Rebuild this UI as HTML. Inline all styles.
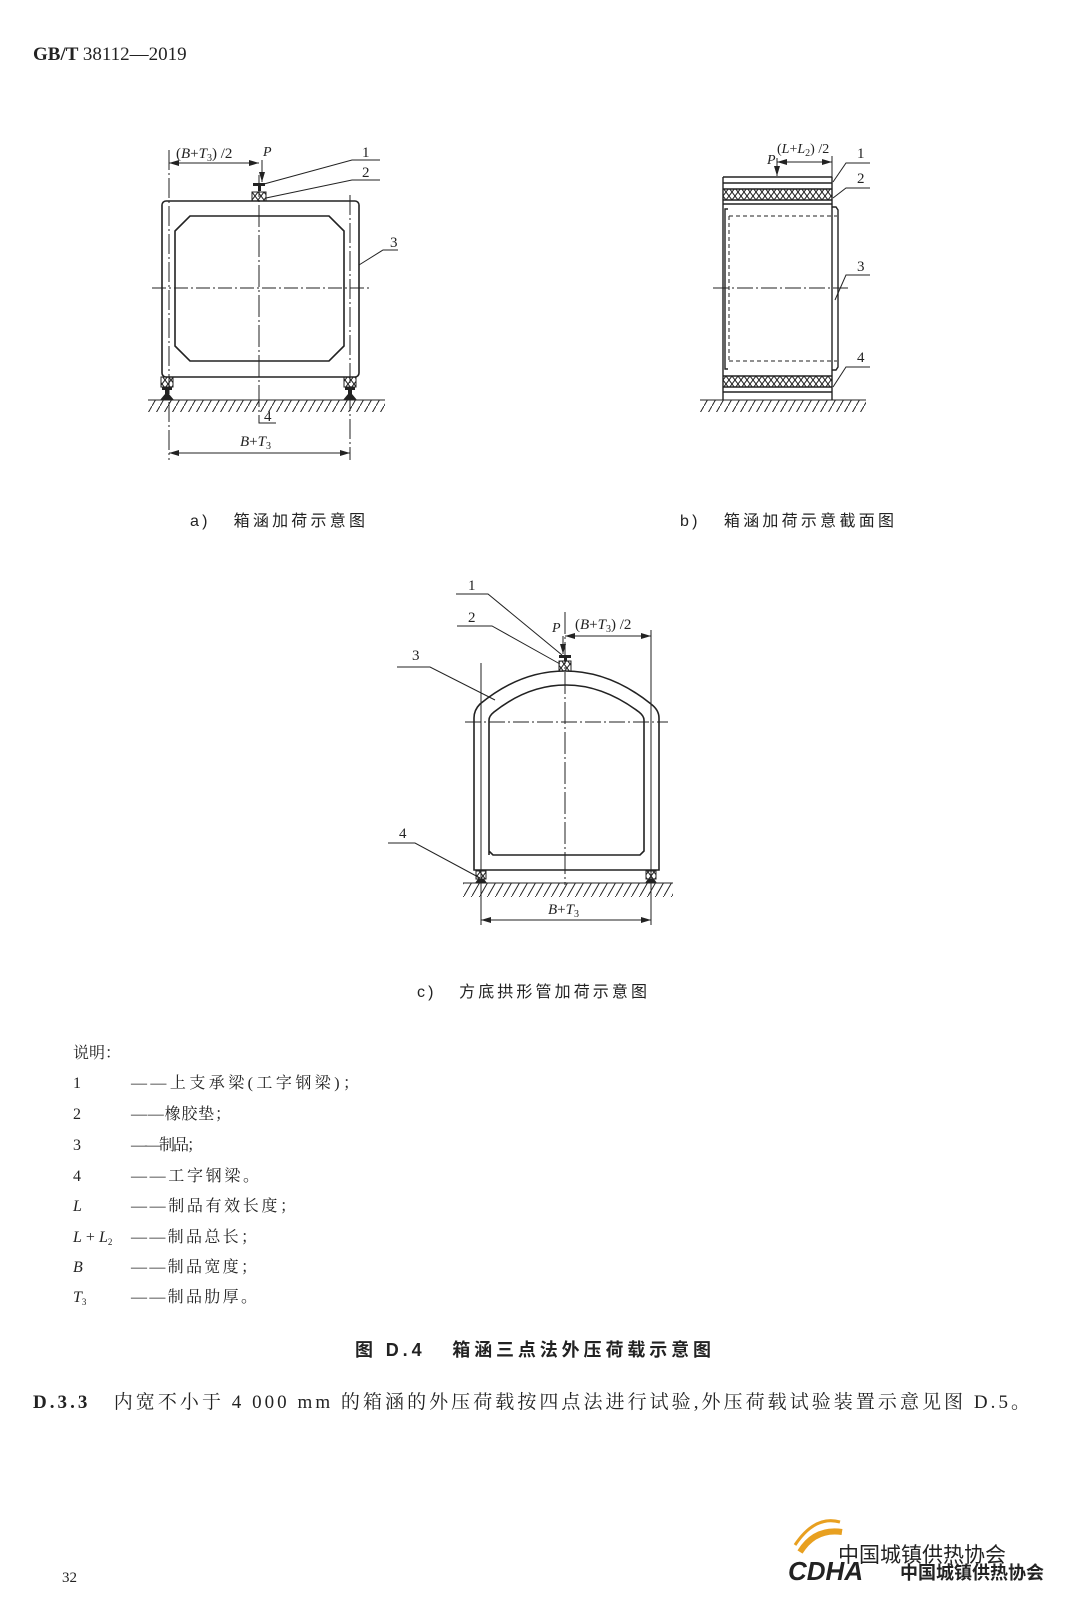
<!DOCTYPE html>
<html><head><meta charset="utf-8">
<style>
html,body{margin:0;padding:0;background:#fff;}
svg{display:block;}
text{font-family:"Liberation Serif","Noto Serif CJK SC",serif;fill:#222;}
.it{font-style:italic;}
.cj{font-family:"Liberation Sans","Noto Sans CJK SC",sans-serif;}
</style></head><body>
<svg width="1080" height="1612" viewBox="0 0 1080 1612" xmlns="http://www.w3.org/2000/svg">
<defs>
<pattern id="hatch" width="8" height="14" patternUnits="userSpaceOnUse">
<line x1="8" y1="0" x2="0" y2="14" stroke="#222" stroke-width="1"/>
</pattern>
<pattern id="xx" width="6" height="8" patternUnits="userSpaceOnUse">
<path d="M0 0L6 8M6 0L0 8" stroke="#222" stroke-width="1"/>
</pattern>
<marker id="ar" markerWidth="10" markerHeight="6" refX="10" refY="3" orient="auto" markerUnits="userSpaceOnUse">
<path d="M0 0L10 3L0 6z" fill="#222"/></marker>
<marker id="al" markerWidth="10" markerHeight="6" refX="0" refY="3" orient="auto" markerUnits="userSpaceOnUse">
<path d="M10 0L0 3L10 6z" fill="#222"/></marker>
</defs>

<text x="33" y="60" font-size="19" font-weight="bold">GB/T <tspan font-weight="normal">38112—2019</tspan></text>

<!-- ============ a ============ -->
<g stroke="#222" fill="none" stroke-width="1.6">
<rect x="162" y="201" width="197" height="176" rx="4"/>
<path d="M190 216H329L344 231V346L329 361H190L175 346V231Z"/>
</g>
<g stroke="#222" stroke-width="1" fill="none">
<line x1="152" y1="288" x2="370" y2="288" stroke-dasharray="14,3,2,3"/>
<line x1="259" y1="175" x2="259" y2="417" stroke-dasharray="22,3,2,3"/>
<line x1="169" y1="150" x2="169" y2="460" stroke-dasharray="20,3,2,3"/>
<line x1="350" y1="195" x2="350" y2="460" stroke-dasharray="20,3,2,3"/>
<line x1="169" y1="163" x2="259" y2="163" marker-start="url(#al)" marker-end="url(#ar)"/>
<line x1="262" y1="160" x2="262" y2="182" marker-end="url(#ar)"/>
<line x1="169" y1="453" x2="350" y2="453" marker-start="url(#al)" marker-end="url(#ar)"/>
<path d="M264 184L352 160H380M266 198L352 180H380M359 265L383 250H398M259 417V423H276"/>
<line x1="148" y1="400" x2="385" y2="400"/>
</g>
<rect x="148" y="400" width="237" height="12" fill="url(#hatch)"/>
<g fill="#222">
<rect x="253" y="183" width="12" height="3"/><rect x="258" y="186" width="3" height="5"/>
<rect x="252" y="192" width="14" height="9" fill="url(#xx)" stroke="#222"/>
<rect x="161" y="377" width="12" height="10" fill="url(#xx)" stroke="#222"/>
<rect x="344" y="377" width="12" height="10" fill="url(#xx)" stroke="#222"/>
<path d="M162 387h10v3h-3v4l5 6h-14l5-6v-4h-3z"/>
<path d="M345 387h10v3h-3v4l5 6h-14l5-6v-4h-3z"/>
</g>
<text x="176" y="158" font-size="15">(<tspan class="it">B</tspan>+<tspan class="it">T</tspan><tspan font-size="10" dy="3">3</tspan><tspan dy="-3">) /2</tspan></text>
<text x="263" y="156" font-size="14" class="it">P</text>
<text x="362" y="157" font-size="15">1</text>
<text x="362" y="177" font-size="15">2</text>
<text x="390" y="247" font-size="15">3</text>
<text x="264" y="421" font-size="15">4</text>
<text x="240" y="446" font-size="15"><tspan class="it">B</tspan>+<tspan class="it">T</tspan><tspan font-size="10" dy="3">3</tspan></text>

<text x="190" y="526" font-size="16" class="cj" textLength="175" lengthAdjust="spacing">a)&#160;&#160;&#160;箱涵加荷示意图</text>
<text x="680" y="526" font-size="16" class="cj" textLength="214" lengthAdjust="spacing">b)&#160;&#160;&#160;箱涵加荷示意截面图</text>

<!-- ============ b ============ -->
<g stroke="#222" fill="none" stroke-width="1.4">
<line x1="723" y1="177" x2="832" y2="177"/>
<line x1="723" y1="183" x2="832" y2="183"/>
<line x1="723" y1="189" x2="832" y2="189"/>
<line x1="723" y1="200" x2="832" y2="200"/>
<line x1="723" y1="204" x2="832" y2="204"/>
<line x1="723" y1="177" x2="723" y2="400"/>
<line x1="832" y1="177" x2="832" y2="400"/>
<line x1="723" y1="376" x2="832" y2="376"/>
<line x1="723" y1="387" x2="832" y2="387"/>
<line x1="723" y1="392" x2="832" y2="392"/>
<path d="M832 207H836L838 210V367L836 370H832"/>
<path d="M728 209H725V369H728"/>
</g>
<rect x="723" y="189" width="109" height="11" fill="url(#xx)"/>
<rect x="723" y="376" width="109" height="11" fill="url(#xx)"/>
<g stroke="#222" stroke-width="1" fill="none">
<path d="M729 216H837M729 361H837M729 216V361" stroke-dasharray="4,3"/>
<line x1="713" y1="288" x2="848" y2="288" stroke-dasharray="16,3,2,3"/>
<line x1="777" y1="158" x2="777" y2="176" marker-end="url(#ar)"/>
<line x1="777" y1="162" x2="832" y2="162" marker-start="url(#al)" marker-end="url(#ar)"/>
<line x1="832" y1="156" x2="832" y2="177"/>
<path d="M833 182L846 163H870M833 198L846 188H870M835 300L846 275H870M833 387L846 367H870"/>
<line x1="700" y1="400" x2="866" y2="400"/>
</g>
<rect x="700" y="400" width="166" height="12" fill="url(#hatch)"/>
<text x="767" y="164" font-size="14" class="it">P</text>
<text x="777" y="153" font-size="14">(<tspan class="it">L</tspan>+<tspan class="it">L</tspan><tspan font-size="10" dy="3">2</tspan><tspan dy="-3">) /2</tspan></text>
<text x="857" y="158" font-size="15">1</text>
<text x="857" y="183" font-size="15">2</text>
<text x="857" y="271" font-size="15">3</text>
<text x="857" y="362" font-size="15">4</text>

<!-- ============ c ============ -->
<g stroke="#222" fill="none" stroke-width="1.6">
<path d="M474 870V718Q474 710 480 704Q520 671 565 671Q610 671 651 704Q659 710 659 718V870Z"/>
<path d="M489 855V720Q489 716 494 712Q528 685 566 685Q603 685 639 712Q644 716 644 720V851L640 855H493L489 851Z"/>
</g>
<g stroke="#222" stroke-width="1" fill="none">
<line x1="465" y1="722" x2="668" y2="722" stroke-dasharray="16,3,2,3"/>
<line x1="565" y1="612" x2="565" y2="885" stroke-dasharray="22,3,2,3"/>
<line x1="481" y1="663" x2="481" y2="925"/>
<line x1="651" y1="630" x2="651" y2="925"/>
<line x1="563" y1="636" x2="563" y2="654" marker-end="url(#ar)"/>
<line x1="565" y1="636" x2="651" y2="636" marker-start="url(#al)" marker-end="url(#ar)"/>
<line x1="481" y1="920" x2="651" y2="920" marker-start="url(#al)" marker-end="url(#ar)"/>
<path d="M456 594H488L562 655M457 626H492L560 664M397 667H430L495 700M388 843H415L480 878"/>
<line x1="463" y1="883" x2="673" y2="883"/>
</g>
<rect x="463" y="883" width="210" height="14" fill="url(#hatch)"/>
<g fill="#222">
<rect x="559" y="655" width="12" height="3"/><rect x="564" y="658" width="3" height="3"/>
<rect x="559" y="661" width="12" height="10" fill="url(#xx)" stroke="#222"/>
<rect x="476" y="871" width="10" height="8" fill="url(#xx)" stroke="#222"/>
<rect x="646" y="871" width="10" height="8" fill="url(#xx)" stroke="#222"/>
<path d="M478 879h6l3 4h-12z"/><path d="M648 879h6l3 4h-12z"/>
</g>
<text x="468" y="590" font-size="15">1</text>
<text x="468" y="622" font-size="15">2</text>
<text x="412" y="660" font-size="15">3</text>
<text x="399" y="838" font-size="15">4</text>
<text x="552" y="632" font-size="14" class="it">P</text>
<text x="575" y="629" font-size="15">(<tspan class="it">B</tspan>+<tspan class="it">T</tspan><tspan font-size="10" dy="3">3</tspan><tspan dy="-3">) /2</tspan></text>
<text x="548" y="914" font-size="15"><tspan class="it">B</tspan>+<tspan class="it">T</tspan><tspan font-size="10" dy="3">3</tspan></text>

<text x="417" y="997" font-size="16" class="cj" textLength="230" lengthAdjust="spacing">c)&#160;&#160;&#160;方底拱形管加荷示意图</text>

<!-- legend -->
<g font-size="16" fill="#333">
<text x="73" y="1058">说明：</text>
<text x="73" y="1088">1</text><text x="131" y="1088" textLength="228" lengthAdjust="spacing">——上支承梁(工字钢梁)；</text>
<text x="73" y="1119">2</text><text x="131" y="1119" textLength="100" lengthAdjust="spacing">——橡胶垫；</text>
<text x="73" y="1150">3</text><text x="131" y="1150" textLength="72" lengthAdjust="spacing">——制品；</text>
<text x="73" y="1181">4</text><text x="131" y="1181" textLength="128" lengthAdjust="spacing">——工字钢梁。</text>
<text x="73" y="1211" class="it">L</text><text x="131" y="1211" textLength="165" lengthAdjust="spacing">——制品有效长度；</text>
<text x="73" y="1242"><tspan class="it">L</tspan> + <tspan class="it">L</tspan><tspan font-size="9" dy="3">2</tspan></text><text x="131" y="1242" textLength="126" lengthAdjust="spacing">——制品总长；</text>
<text x="73" y="1272" class="it">B</text><text x="131" y="1272" textLength="126" lengthAdjust="spacing">——制品宽度；</text>
<text x="73" y="1302"><tspan class="it">T</tspan><tspan font-size="9" dy="3">3</tspan></text><text x="131" y="1302" textLength="126" lengthAdjust="spacing">——制品肋厚。</text>
</g>

<text x="355" y="1356" font-size="18" font-weight="bold" class="cj" textLength="356" lengthAdjust="spacing">图 D.4&#160;&#160;&#160;箱涵三点法外压荷载示意图</text>
<text x="33" y="1408" font-size="19" textLength="997" lengthAdjust="spacing"><tspan font-weight="bold">D.3.3</tspan>&#160;&#160;&#160;内宽不小于 4 000 mm 的箱涵的外压荷载按四点法进行试验,外压荷载试验装置示意见图 D.5。</text>

<text x="62" y="1582" font-size="15" fill="#444">32</text>

<!-- watermark -->
<path d="M800 1552Q815 1528 842 1532" stroke="#e8a020" stroke-width="6" fill="none"/>
<path d="M795 1545Q815 1515 840 1522" stroke="#e8a020" stroke-width="3" fill="none"/>
<text x="788" y="1580" font-size="26" font-weight="bold" font-style="italic" fill="#2a3590" style="font-family:'Liberation Sans',sans-serif">CDHA</text>
<text x="838" y="1562" font-size="21" fill="#c8c8c8" class="cj">中国城镇供热协会</text>
<text x="900" y="1579" font-size="18" font-weight="bold" fill="#2a3590" class="cj">中国城镇供热协会</text>
</svg>
</body></html>
